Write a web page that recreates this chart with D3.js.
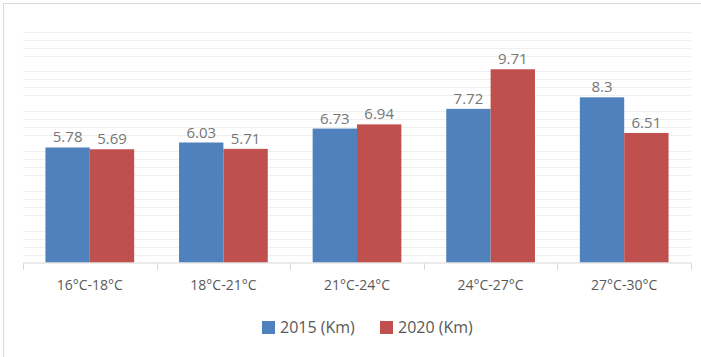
<!DOCTYPE html>
<html>
<head>
<meta charset="utf-8">
<script src="https://cdn.jsdelivr.net/npm/d3@7"></script>
<style>
  html, body { margin: 0; padding: 0; background: #fff; }
  svg { display: block; font-family: "Open Sans", sans-serif; }
</style>
</head>
<body>
<div id="chart"></div>
<script>
// chart data
const categories = ["16°C-18°C", "18°C-21°C", "21°C-24°C", "24°C-27°C", "27°C-30°C"];
const seriesNames = ["2015 (Km)", "2020 (Km)"];
const values2015 = [5.78, 6.03, 6.73, 7.72, 8.3];
const values2020 = [5.69, 5.71, 6.94, 9.71, 6.51];
const seriesColors = ["#4F81BD", "#C0504D"];

const width = 701, height = 357;
const plot = {left: 23, right: 691, top: 23.7, bottom: 262.5};

const svg = d3.select('#chart').append('svg')
    .attr('width', width)
    .attr('height', height);

// frame (only top and left visible in the crop)
svg.append('path')
    .attr('d', `M3.5,${height} V3.5 H${width}`)
    .attr('fill', 'none')
    .attr('stroke', '#d9d9d9')
    .attr('stroke-width', 1);

const x0 = d3.scaleBand()
    .domain(categories)
    .range([plot.left, plot.right])
    .padding(0);

const bw = x0.bandwidth();
const x1 = d3.scaleBand()
    .domain(seriesNames)
    .range([bw * 0.168, bw * 0.832])
    .padding(0);

const y = d3.scaleLinear()
    .domain([0, 12])
    .range([plot.bottom, plot.top]);

// minor gridlines every 0.4 (major lines at multiples of 2 are not visible)
const gridVals = d3.range(1, 30).map(i => i * 0.4)
    .filter(v => Math.abs(v / 2 - Math.round(v / 2)) > 1e-6);

svg.append('g')
    .selectAll('line')
    .data(gridVals)
    .join('line')
    .attr('x1', plot.left)
    .attr('x2', plot.right)
    .attr('y1', d => Math.round(y(d)) + 0.5)
    .attr('y2', d => Math.round(y(d)) + 0.5)
    .attr('stroke', '#efefef')
    .attr('stroke-width', 1);

// bars
const rows = categories.map((c, i) => ({cat: c, vals: [values2015[i], values2020[i]]}));

const groups = svg.append('g')
    .selectAll('g')
    .data(rows)
    .join('g')
    .attr('transform', d => `translate(${x0(d.cat)},0)`);

groups.selectAll('rect')
    .data(d => d.vals.map((v, j) => ({name: seriesNames[j], value: v, j})))
    .join('rect')
    .attr('x', d => x1(d.name))
    .attr('y', d => y(d.value))
    .attr('width', x1.bandwidth())
    .attr('height', d => y(0) - y(d.value))
    .attr('fill', d => seriesColors[d.j]);

groups.selectAll('text')
    .data(d => d.vals.map((v, j) => ({name: seriesNames[j], value: v, j})))
    .join('text')
    .attr('x', d => x1(d.name) + x1.bandwidth() / 2)
    .attr('y', d => y(d.value) - 5)
    .attr('text-anchor', 'middle')
    .attr('font-size', 15)
    .attr('fill', '#767676')
    .text(d => d.value);

// x axis
const xAxis = svg.append('g')
    .attr('transform', `translate(0,${plot.bottom + 0.5})`);

xAxis.append('line')
    .attr('x1', plot.left)
    .attr('x2', plot.right)
    .attr('stroke', '#d9d9d9');

const boundaries = categories.map(c => x0(c)).concat([plot.right]);
xAxis.selectAll('.tick-mark')
    .data(boundaries)
    .join('line')
    .attr('class', 'tick-mark')
    .attr('x1', d => Math.round(d) + 0.5)
    .attr('x2', d => Math.round(d) + 0.5)
    .attr('y1', 0)
    .attr('y2', 7)
    .attr('stroke', '#d9d9d9');

xAxis.selectAll('.cat-label')
    .data(categories)
    .join('text')
    .attr('class', 'cat-label')
    .attr('x', d => x0(d) + bw / 2)
    .attr('y', 27)
    .attr('text-anchor', 'middle')
    .attr('font-size', 14)
    .attr('fill', '#595959')
    .text(d => d);

// legend
const legendX = [262, 380];
const legend = svg.append('g')
    .selectAll('g')
    .data(seriesNames)
    .join('g')
    .attr('transform', (d, i) => `translate(${legendX[i]},321)`);

legend.append('rect')
    .attr('width', 13)
    .attr('height', 13)
    .attr('fill', (d, i) => seriesColors[i]);

legend.append('text')
    .attr('x', 18)
    .attr('y', 12)
    .attr('font-size', 16)
    .attr('fill', '#595959')
    .text(d => d);
</script>
</body>
</html>
